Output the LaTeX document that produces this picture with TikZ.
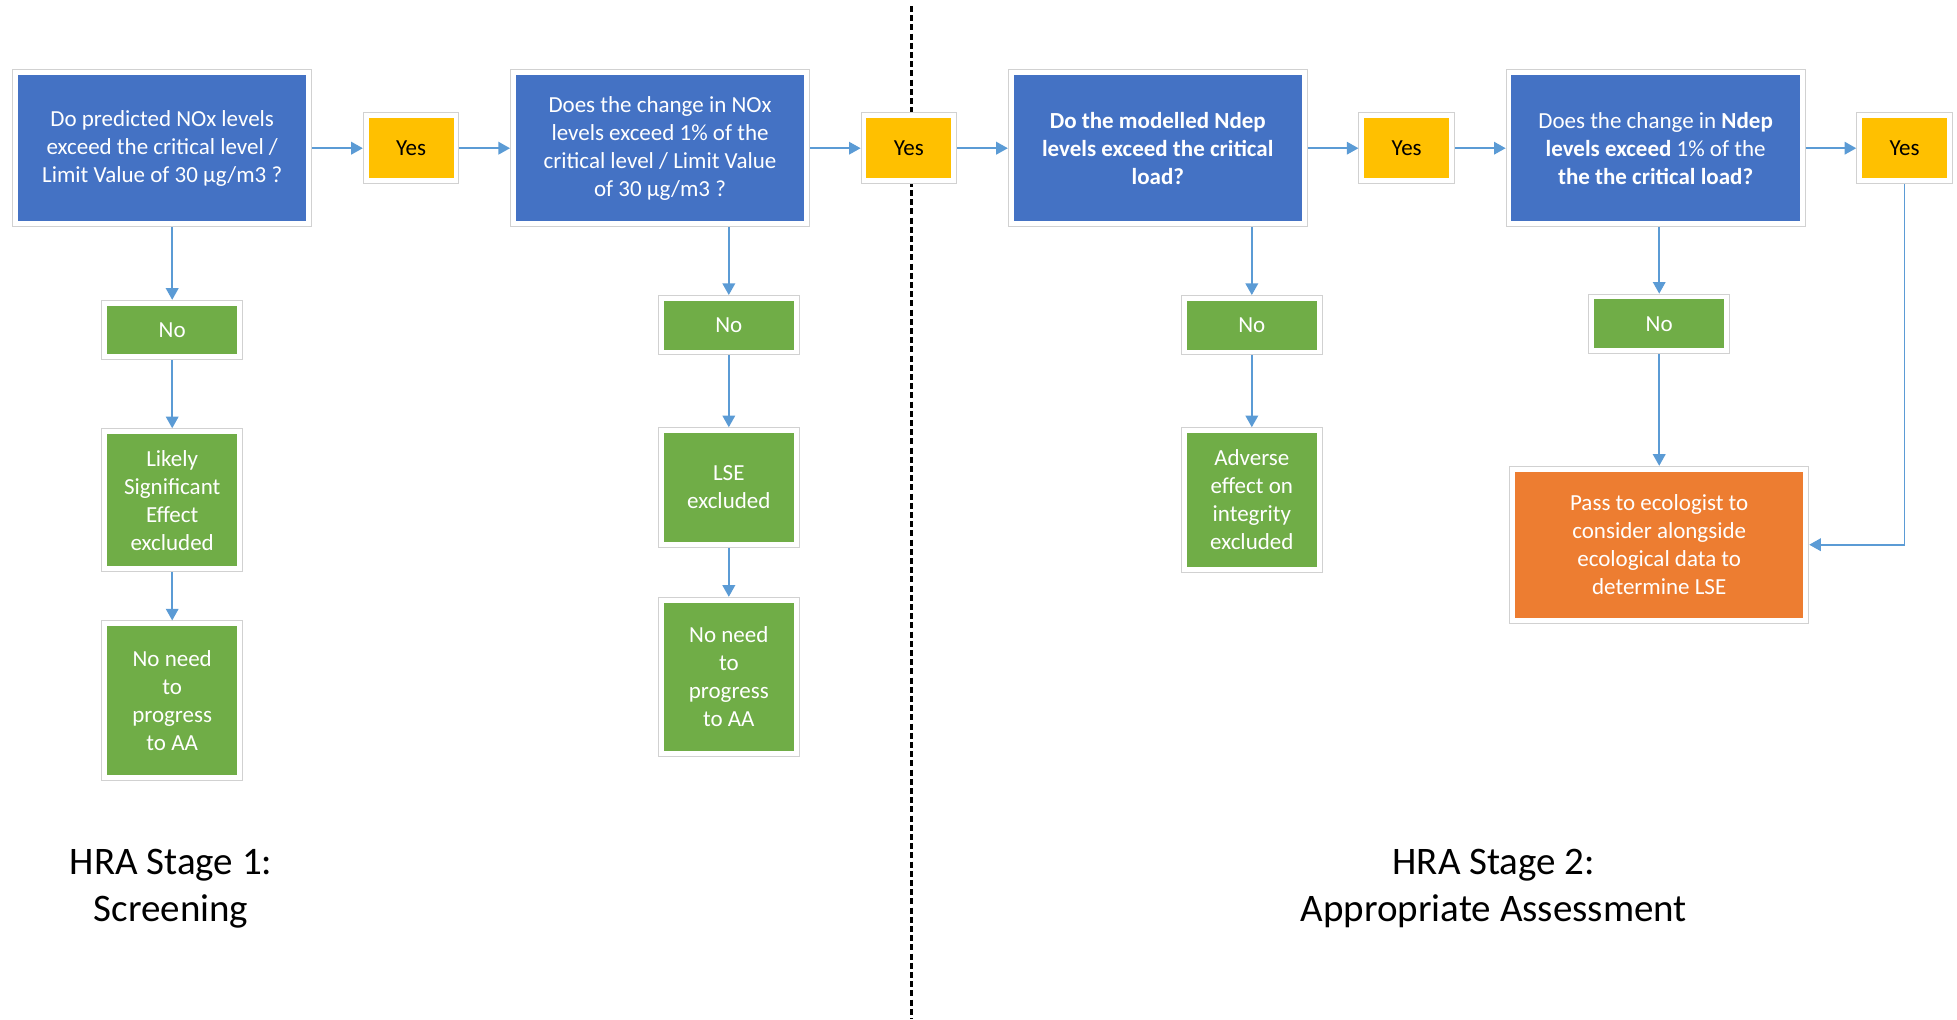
\documentclass[tikz,border=0pt]{standalone}
\usepackage{fontspec}
\setmainfont{Carlito}
\usetikzlibrary{arrows.meta,positioning}

\definecolor{qblue}{HTML}{4472C4}
\definecolor{ansyes}{HTML}{FFC000}
\definecolor{ansno}{HTML}{70AD47}
\definecolor{passor}{HTML}{ED7D31}
\definecolor{flowc}{HTML}{5B9BD5}

\begin{document}
\begin{tikzpicture}[
		node distance=25.3pt,
		box/.style={preaction={draw=black!18, line width=3.4pt}, draw=white, line width=2.4pt, outer sep=1.7pt, inner sep=2pt, align=center, font=\fontsize{11.5}{14}\selectfont},
		question/.style={box, fill=qblue, text=white, minimum width=146.6pt, minimum height=75.5pt},
		yesbox/.style={box, fill=ansyes, text=black, minimum width=44.9pt, minimum height=32.4pt},
		nobox/.style={box, fill=ansno, text=white, minimum width=67.4pt, minimum height=26.8pt},
		outcome/.style={box, fill=ansno, text=white, minimum width=67.4pt},
		passbox/.style={box, fill=passor, text=white, minimum width=146.6pt, minimum height=75.5pt},
		flow/.style={draw=flowc, line width=0.8pt, -{Triangle[width=6.3pt,length=5.8pt]}},
		stage/.style={align=center, font=\fontsize{19.5}{23.7}\selectfont},
	]
		\useasboundingbox (0,0) rectangle (978.5pt,-509.5pt);

		% stage divider, under the boxes
		\coordinate (divtop) at (455.5pt,-3pt);
		\coordinate (divbot) at (455.5pt,-509.5pt);
		\draw[line width=1.5pt, dash pattern=on 3pt off 1.6pt] (divtop) -- (divbot);

		% top row
		\node[question] (q1) at (81.1pt,-74.1pt) {Do predicted NOx levels\\exceed the critical level /\\Limit Value of 30 µg/m3 ?};
		\node[yesbox, right=of q1] (y1) {Yes};
		\node[question, right=of y1] (q2) {Does the change in NOx\\levels exceed  1\% of the\\critical level / Limit Value\\of 30 µg/m3 ?};
		\node[yesbox, right=of q2] (y2) {Yes};
		\node[question, right=of y2, font=\bfseries\fontsize{11.5}{14}\selectfont] (q3) {Do the modelled Ndep\\levels exceed the critical\\load?};
		\node[yesbox, right=of q3] (y3) {Yes};
		\node[question, right=of y3] (q4) {Does the change in \textbf{Ndep}\\\textbf{levels exceed} 1\% of the\\\textbf{the the critical load?}};
		\node[yesbox, right=of q4] (y4) {Yes};

		% stage 1 columns
		\node[nobox] (no1) at (86.1pt,-165pt) {No};
		\node[outcome, below=34pt of no1, minimum height=68.6pt] (lse1) {Likely\\Significant\\Effect\\excluded};
		\node[outcome, below=24.1pt of lse1, minimum height=76.8pt] (aa1) {No need\\to\\progress\\to AA};
		\node[nobox] (no2) at (364.4pt,-162.6pt) {No};
		\node[outcome, below=35.9pt of no2, minimum height=56.8pt] (lse2) {LSE\\excluded};
		\node[outcome, below=24.6pt of lse2, minimum height=76.8pt] (aa2) {No need\\to\\progress\\to AA};

		% stage 2 columns
		\node[nobox] (no3) at (625.9pt,-162.6pt) {No};
		\node[outcome, below=35.9pt of no3, minimum height=69.3pt] (adv) {Adverse\\effect on\\integrity\\excluded};
		\node[nobox] (no4) at (829.6pt,-161.9pt) {No};
		\node[passbox, below=55.9pt of no4] (pass) {Pass to ecologist to\\consider alongside\\ecological data to\\determine LSE};

		\node[stage] (s1) at (85.5pt,-444.3pt) {HRA Stage 1:\\Screening};
		\node[stage] (s2) at (746.9pt,-444.3pt) {HRA Stage 2:\\Appropriate Assessment};

		\draw[flow] (q1) -- (y1);
		\draw[flow] (y1) -- (q2);
		\draw[flow] (q2) -- (y2);
		\draw[flow] (y2) -- (q3);
		\draw[flow] (q3) -- (y3);
		\draw[flow] (y3) -- (q4);
		\draw[flow] (q4) -- (y4);
		\draw[flow] (q1.south -| no1) -- (no1);
		\draw[flow] (no1) -- (lse1);
		\draw[flow] (lse1) -- (aa1);
		\draw[flow] (q2.south -| no2) -- (no2);
		\draw[flow] (no2) -- (lse2);
		\draw[flow] (lse2) -- (aa2);
		\draw[flow] (q3.south -| no3) -- (no3);
		\draw[flow] (no3) -- (adv);
		\draw[flow] (q4.south -| no4) -- (no4);
		\draw[flow] (no4) -- (pass);
		\draw[flow] (y4) |- (pass);
	\end{tikzpicture}
\end{document}
